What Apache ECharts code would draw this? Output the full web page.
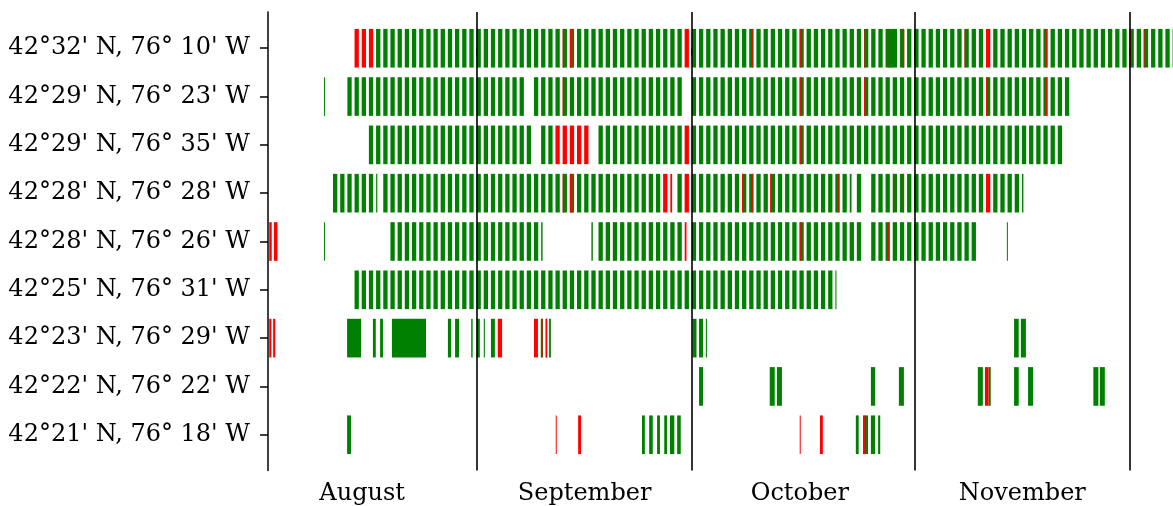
<!DOCTYPE html>
<html>
<head>
<meta charset="utf-8">
<script src="https://cdn.jsdelivr.net/npm/echarts@6/dist/echarts.min.js"></script>
<style>
    html, body { margin: 0; padding: 0; background: #ffffff; }
    #char1 { width: 1173px; height: 506px; }
</style>
</head>
<body>
<div id="char1"></div>
<script>
// day numbers: 0 = 1 August
var stations = [
    "42°32' N, 76° 10' W",
    "42°29' N, 76° 23' W",
    "42°29' N, 76° 35' W",
    "42°28' N, 76° 28' W",
    "42°28' N, 76° 26' W",
    "42°25' N, 76° 31' W",
    "42°23' N, 76° 29' W",
    "42°22' N, 76° 22' W",
    "42°21' N, 76° 18' W"
];

var monthNames = ["August", "September", "October", "November"];
var monthMiddles = [15, 46, 76, 107];
var monthStarts = [31, 61, 92, 122];

// consecutive days that have a daily bar
var dailyRuns = [
    [[14, 128]],
    [[13, 37], [39, 59], [61, 113]],
    [[16, 38], [40, 46], [48, 112]],
    [[11, 16], [18, 57], [59, 82], [84, 84], [86, 106]],
    [[19, 39], [48, 59], [61, 84], [86, 100]],
    [[14, 80]],
    [],
    [],
    []
];

// days whose daily bar is red
var redDays = [
    [14, 15, 16, 60, 102],
    [],
    [42, 43, 44, 45, 46, 60],
    [57, 60, 102],
    [],
    [],
    [],
    [],
    []
];

// irregular green spans [from, to]
var extraGreen = [
    [[88.4, 89.0]],
    [[9.68, 9.78]],
    [],
    [[16.95, 17.12], [82.95, 83.2], [106.95, 107.15]],
    [[9.68, 9.78], [39.95, 40.15], [46.95, 47.15], [104.85, 104.95]],
    [[80.95, 81.1]],
    [[12.9, 14.85], [16.5, 16.9], [17.5, 17.9], [19.15, 23.9], [26.95, 27.4], [27.95, 28.5],
     [30.2, 30.4], [30.95, 31.4], [31.95, 32.1], [32.95, 33.5], [39.9, 40.2], [40.55, 40.8],
     [41.05, 41.3], [61.05, 61.6], [61.95, 62.5], [62.9, 63.05], [105.85, 106.5], [106.8, 107.5]],
    [[61.95, 62.5], [71.8, 72.5], [72.8, 73.5], [85.9, 86.5], [89.8, 90.5], [100.8, 101.5],
     [102.3, 102.6], [105.85, 106.5], [107.8, 108.5], [116.9, 117.6], [117.8, 118.5]],
    [[12.9, 13.45], [54.0, 54.4], [55.0, 55.5], [56.1, 56.5], [57.1, 57.5], [57.9, 58.5],
     [58.9, 59.4], [83.8, 84.2], [84.8, 85.5], [85.9, 86.5], [86.9, 87.2]]
];

// irregular red spans and red marks [from, to]
var extraRed = [
    [[42.95, 43.15], [43.95, 44.3], [49.95, 50.1], [69.35, 69.45], [76.0, 76.1], [85.0, 85.15],
     [88.4, 88.5], [90.35, 90.55], [98.95, 99.1], [110.3, 110.4], [119.1, 119.2], [121.95, 122.15],
     [123.9, 124.0]],
    [[42.95, 43.15], [76.0, 76.1], [84.95, 85.2], [101.95, 102.2], [110.3, 110.45]],
    [[76.0, 76.1]],
    [[42.95, 43.15], [43.95, 44.3], [57.95, 58.2], [67.95, 68.05], [69.35, 69.45], [71.85, 71.95],
     [81.35, 81.5], [89.0, 89.1], [90.35, 90.45]],
    [[2.05, 2.4], [2.7, 3.2], [49.95, 50.1], [59.95, 60.2], [76.0, 76.1], [88.3, 88.4]],
    [],
    [[2.05, 2.35], [2.6, 2.9], [33.9, 34.5], [38.95, 39.5], [40.0, 40.07], [40.62, 40.68]],
    [[101.8, 102.3]],
    [[41.98, 42.05], [45.1, 45.5], [75.98, 76.05], [78.8, 79.2], [84.95, 85.1]]
];

window.onload = function () {
    char1();
};

function buildBars() {
    var green = [];
    var red = [];
    for (var i = 0; i < stations.length; i++) {
        dailyRuns[i].forEach(function (run) {
            for (var d = run[0]; d <= run[1]; d++) {
                var item = [d - 0.06, d + 0.54, i];
                if (redDays[i].indexOf(d) >= 0) {
                    red.push(item);
                } else {
                    green.push(item);
                }
            }
        });
        extraGreen[i].forEach(function (s) {
            green.push([s[0], s[1], i]);
        });
        extraRed[i].forEach(function (s) {
            red.push([s[0], s[1], i]);
        });
    }
    return { green: green, red: red };
}

function renderBar(params, api) {
    var start = api.coord([api.value(0), api.value(2)]);
    var end = api.coord([api.value(1), api.value(2)]);
    var h = api.size([0, 0.8])[1];
    var rect = echarts.graphic.clipRectByRect({
        x: start[0],
        y: start[1] - h / 2,
        width: Math.max(end[0] - start[0], 1),
        height: h
    }, {
        x: params.coordSys.x,
        y: params.coordSys.y,
        width: params.coordSys.width,
        height: params.coordSys.height
    });
    return rect && {
        type: "rect",
        shape: rect,
        style: { fill: api.visual("color") }
    };
}

function char1() {
    var myChart = echarts.init(document.getElementById("char1"));
    var bars = buildBars();

    var option = {
        animation: false,
        grid: {
            left: 268,
            right: 0,
            top: 12,
            bottom: 35.5
        },
        xAxis: {
            type: "value",
            min: 1.88,
            max: 128.0,
            axisLine: { show: false },
            splitLine: { show: false },
            axisTick: {
                show: true,
                customValues: monthStarts,
                length: 7,
                lineStyle: { color: "#000000", width: 1.6 }
            },
            axisLabel: {
                customValues: monthMiddles,
                margin: 11,
                color: "#000000",
                fontFamily: "DejaVu Serif",
                fontSize: 24,
                formatter: function (v) {
                    return monthNames[monthMiddles.indexOf(v)];
                }
            }
        },
        yAxis: {
            type: "value",
            inverse: true,
            min: -0.75,
            max: 8.74,
            splitLine: { show: false },
            axisLine: {
                show: true,
                lineStyle: { color: "#000000", width: 1.5 }
            },
            axisTick: {
                show: true,
                customValues: [0, 1, 2, 3, 4, 5, 6, 7, 8],
                length: 8,
                lineStyle: { color: "#000000", width: 1.5 }
            },
            axisLabel: {
                customValues: [0, 1, 2, 3, 4, 5, 6, 7, 8],
                margin: 18,
                padding: [4, 0, 0, 0],
                color: "#000000",
                fontFamily: "DejaVu Serif",
                fontSize: 24,
                formatter: function (v) {
                    return stations[v];
                }
            }
        },
        series: [
            {
                name: "ok",
                type: "custom",
                renderItem: renderBar,
                itemStyle: { color: "#008000" },
                encode: { x: [0, 1], y: 2 },
                data: bars.green,
                markLine: {
                    silent: true,
                    symbol: "none",
                    label: { show: false },
                    lineStyle: { color: "#000000", width: 1.6, type: "solid" },
                    data: monthStarts.map(function (v) {
                        return { xAxis: v };
                    })
                }
            },
            {
                name: "failed",
                type: "custom",
                renderItem: renderBar,
                itemStyle: { color: "#ff0000" },
                encode: { x: [0, 1], y: 2 },
                data: bars.red
            }
        ]
    };

    myChart.setOption(option);
    window.addEventListener("resize", function () {
        myChart.resize();
    });
}
</script>
</body>
</html>
